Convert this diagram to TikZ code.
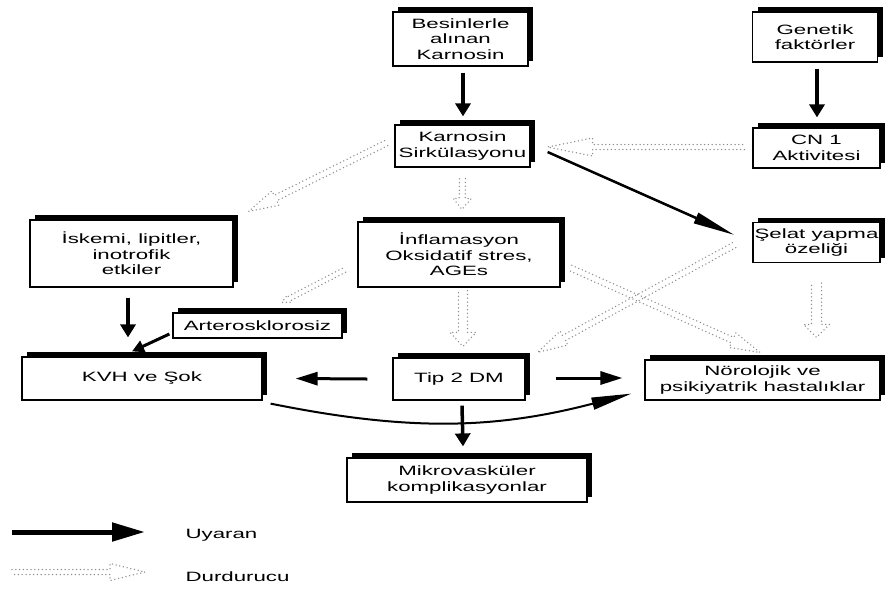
\documentclass[tikz,border=0pt]{standalone}
\usepackage{fontspec}
\setmainfont{Liberation Sans}[FakeStretch=1.65]
\usetikzlibrary{positioning, arrows.meta, calc, shadows}

% hollow dotted arrow: from, to, shaft half width, head half width, head length
\newcommand{\durdur}[5]{%
  \coordinate (dA) at (#1);
  \coordinate (dB) at (#2);
  \coordinate (dH) at ($(dB)!#5!(dA)$);
  \draw[durdurucu] ($(dA)!#3!90:(dB)$) -- ($(dH)!#3!-90:(dA)$) -- ($(dH)!#4!-90:(dA)$)
    -- (dB) -- ($(dH)!#4!90:(dA)$) -- ($(dH)!#3!90:(dA)$) -- ($(dA)!#3!-90:(dB)$);
}

\begin{document}
\begin{tikzpicture}[
  x=1pt, y=-1pt,
  kutu/.style={
    draw=black, line width=1.2pt, fill=white, align=center, inner sep=1pt,
    font=\fontsize{13.5}{15.5}\selectfont,
    general shadow={fill=black, shadow xshift=5pt, shadow yshift=5pt}
  },
  uyaran/.style={-{Triangle[length=13pt, width=15pt]}, line width=4pt},
  yatay/.style={-{Triangle[length=22pt, width=13pt]}, line width=3pt},
  ince/.style={-{Triangle[length=42pt, width=11pt]}, line width=2.5pt},
  durdurucu/.style={draw=gray!90, line width=1.5pt, line cap=round, dash pattern=on 0pt off 3.8pt},
  yazi/.style={font=\fontsize{13.5}{15.5}\selectfont, anchor=base west}
]
\path[use as bounding box, fill=white] (0,0) rectangle (885,590);

\node[kutu, minimum width=135pt, minimum height=54pt] (besin) at (460.5,39) {Besinlerle\\alınan\\Karnosin};
\node[kutu, minimum width=135pt, minimum height=42pt] (karn) at (462.5,146) {Karnosin\\Sirkülasyonu};
\node[kutu, minimum width=125pt, minimum height=50pt] (gen) at (815,37) {Genetik\\faktörler};
\node[kutu, minimum width=127pt, minimum height=40pt] (cn) at (816.5,148) {CN 1\\Aktivitesi};
\node[kutu, minimum width=127pt, minimum height=40pt] (selat) at (816.5,242.5) {Şelat yapma\\özeliği};
\node[kutu, minimum width=203pt, minimum height=67pt] (isk) at (131.5,253.5) {İskemi, lipitler,\\inotrofik\\etkiler};
\node[kutu, minimum width=169pt, minimum height=25pt] (arter) at (257.5,325.5) {Arterosklorosiz};
\node[kutu, minimum width=240pt, minimum height=43pt] (kvh) at (142,378.5) {KVH ve Şok};
\node[kutu, minimum width=202pt, minimum height=65pt] (infl) at (459,254.5) {İnflamasyon\\Oksidatif stres,\\AGEs};
\node[kutu, minimum width=132pt, minimum height=42pt] (tip) at (459,379) {Tip 2 DM};
\node[kutu, minimum width=235pt, minimum height=40pt] (noro) at (762.5,380) {Nörolojik ve\\psikiyatrik hastalıklar};
\node[kutu, minimum width=240pt, minimum height=44pt] (mikro) at (467,480) {Mikrovasküler\\komplikasyonlar};

% uyaran
\draw[uyaran] ($(besin.south)+(2.5,6)$) -- ($(karn.north)+(0.5,-8)$);
\draw[uyaran] ($(gen.south)+(2,6)$) -- ($(cn.north)+(0.5,-10)$);
\draw[uyaran] ($(isk.south)+(-3.5,10)$) -- ($(kvh.north)+(-14,-19)$);
\draw[yatay, -{Triangle[length=12pt, width=12pt]}] ($(arter.west)+(-3,8.5)$) -- ($(kvh.north)+(-10,-5)$);
\draw[ince] ($(karn.east)+(17,6)$) -- ($(selat.west)+(-18,-7.5)$);
\draw[yatay] ($(tip.west)+(-25,0)$) -- ($(kvh.east)+(33,0)$);
\draw[yatay] ($(tip.east)+(30,-1)$) -- ($(noro.west)+(-22,-2)$);
\draw[uyaran, line width=3.5pt] ($(tip.south)+(3,5)$) -- ($(mikro.north)+(-4,-11)$);
\draw[-{Triangle[length=40pt, width=12pt]}, line width=2pt] ($(kvh.south east)+(8,3)$) to[bend right=13] ($(noro.south west)+(-13,-7)$);

% durdurucu
\durdur{$(cn.west)+(-8,-1)$}{$(karn.east)+(17,1)$}{2.5pt}{9pt}{45pt}
\durdur{$(karn.west)+(-8,-3)$}{$(isk.north east)+(15,-8)$}{3pt}{8pt}{30pt}
\durdur{$(karn.south)+(0,11)$}{$(infl.north)+(3,-12)$}{3pt}{9pt}{11pt}
\durdur{$(infl.south)+(4,3)$}{$(tip.north)+(4,-11)$}{4.5pt}{13pt}{14pt}
\durdur{$(infl.west)+(-13,15.5)$}{$(arter.north)+(24.5,-10)$}{2.5pt}{4pt}{8pt}
\durdur{$(selat.west)+(-18,2.5)$}{$(tip.north east)+(12,-5)$}{3pt}{8pt}{30pt}
\durdur{$(infl.east)+(10,13.5)$}{$(noro.north)+(-2.5,-7)$}{3pt}{8pt}{30pt}
\durdur{$(selat.south)+(0,20)$}{$(selat.south |- noro.north)+(0,-22)$}{5pt}{13pt}{13pt}

% legend
\coordinate (uyA) at (12,532);
\coordinate (uyB) at (145,532);
\coordinate (duA) at (12,572);
\coordinate (duB) at (145,572);
\draw[-{Triangle[length=33pt, width=18pt]}, line width=5pt] (uyA) -- (uyB);
\durdur{duA}{duB}{2.5pt}{8.5pt}{35pt}
\node[yazi] (uyyazi) at (182,538) {Uyaran};
\node[yazi] (duyazi) at (182,581) {Durdurucu};

\end{tikzpicture}
\end{document}
